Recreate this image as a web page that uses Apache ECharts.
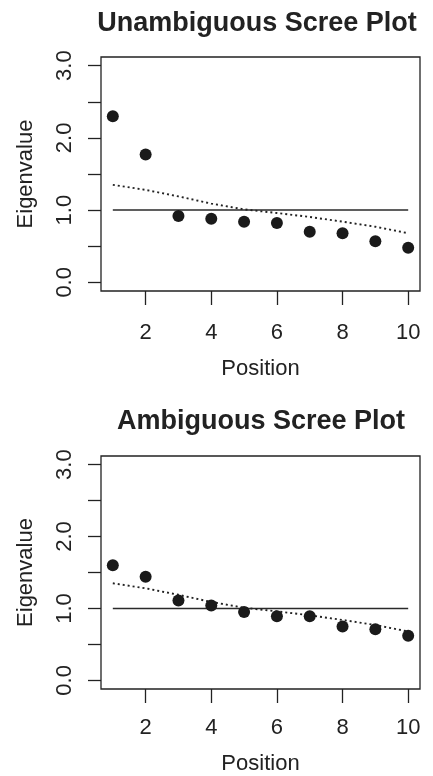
<!DOCTYPE html>
<html>
<head>
<meta charset="utf-8">
<title>Scree Plots</title>
<script src="https://cdn.jsdelivr.net/npm/echarts@6/dist/echarts.min.js"></script>
<style>
  html, body { margin: 0; padding: 0; background: #fff; }
  #chart { width: 433px; height: 776px; }
</style>
</head>
<body>
<div id="chart"></div>
<script>
// positions on x, observed eigenvalues per panel, and the dotted reference curve
const positions = [1, 2, 3, 4, 5, 6, 7, 8, 9, 10];
const unambiguous = [2.30, 1.77, 0.92, 0.88, 0.84, 0.82, 0.70, 0.68, 0.57, 0.48];
const ambiguous = [1.60, 1.44, 1.11, 1.04, 0.95, 0.89, 0.89, 0.75, 0.71, 0.62];
const randomEigen = [1.35, 1.28, 1.19, 1.09, 1.01, 0.96, 0.905, 0.84, 0.77, 0.68];
const kaiserLine = [1, 1];
const kaiserEnds = [1, 10];
const xTicks = [2, 4, 6, 8, 10];
const yTicks = [0, 0.5, 1, 1.5, 2, 2.5, 3];
const yLabels = [0, 1, 2, 3];
const titles = ['Unambiguous Scree Plot', 'Ambiguous Scree Plot'];

const font = "'Liberation Sans', Arial, Helvetica, sans-serif";
const ink = '#222';

function pairs(ys) {
  return positions.map((x, i) => [x, ys[i]]);
}

function makeX(gridIndex, labelMargin, nameGap) {
  return {
    gridIndex: gridIndex,
    type: 'value',
    min: 0.64,
    max: 10.36,
    name: 'Position',
    nameLocation: 'middle',
    nameGap: nameGap,
    nameTextStyle: { fontSize: 22, color: ink, fontFamily: font },
    splitLine: { show: false },
    axisLine: { show: false, onZero: false },
    axisTick: {
      show: true,
      length: 14,
      customValues: xTicks,
      lineStyle: { color: ink, width: 1.3 },
    },
    axisLabel: {
      customValues: xTicks,
      fontSize: 22,
      color: ink,
      fontFamily: font,
      margin: labelMargin,
    },
  };
}

function makeY(gridIndex) {
  return {
    gridIndex: gridIndex,
    type: 'value',
    min: -0.12,
    max: 3.12,
    name: 'Eigenvalue',
    nameLocation: 'middle',
    nameGap: 64,
    nameTextStyle: { fontSize: 22, color: ink, fontFamily: font },
    splitLine: { show: false },
    axisLine: { show: false, onZero: false },
    axisTick: {
      show: true,
      length: 13,
      customValues: yTicks,
      lineStyle: { color: ink, width: 1.3 },
    },
    axisLabel: {
      customValues: yLabels,
      rotate: 90,
      fontSize: 22,
      color: ink,
      fontFamily: font,
      margin: 25,
      formatter: v => v.toFixed(1),
    },
  };
}

function panelSeries(idx, values) {
  return [
    {
      type: 'line',
      xAxisIndex: idx,
      yAxisIndex: idx,
      data: kaiserEnds.map((x, i) => [x, kaiserLine[i]]),
      showSymbol: false,
      silent: true,
      lineStyle: { color: '#2a2a2a', width: 1.5 },
      z: 2,
    },
    {
      type: 'line',
      xAxisIndex: idx,
      yAxisIndex: idx,
      data: pairs(randomEigen),
      showSymbol: false,
      silent: true,
      lineStyle: { color: '#222', width: 1.9, type: [2, 3] },
      z: 2,
    },
    {
      type: 'scatter',
      xAxisIndex: idx,
      yAxisIndex: idx,
      data: pairs(values),
      symbolSize: 12,
      itemStyle: { color: '#1a1a1a', opacity: 1 },
      z: 3,
    },
  ];
}

const option = {
  backgroundColor: '#fff',
  animation: false,
  title: [
    {
      text: titles[0],
      left: 257,
      top: 10,
      textAlign: 'center',
      padding: 0,
      textStyle: { fontSize: 27, fontWeight: 'bold', color: ink, fontFamily: font },
    },
    {
      text: titles[1],
      left: 261,
      top: 408,
      textAlign: 'center',
      padding: 0,
      textStyle: { fontSize: 27, fontWeight: 'bold', color: ink, fontFamily: font },
    },
  ],
  grid: [
    { left: 101, top: 57, width: 319, height: 234, show: true, borderColor: ink, borderWidth: 1.3, containLabel: false },
    { left: 101, top: 456, width: 319, height: 233, show: true, borderColor: ink, borderWidth: 1.3, containLabel: false },
  ],
  xAxis: [makeX(0, 31, 67), makeX(1, 28, 64)],
  yAxis: [makeY(0), makeY(1)],
  series: [].concat(panelSeries(0, unambiguous), panelSeries(1, ambiguous)),
};

const chart = echarts.init(document.getElementById('chart'), null, { renderer: 'canvas' });
chart.setOption(option);
</script>
</body>
</html>
